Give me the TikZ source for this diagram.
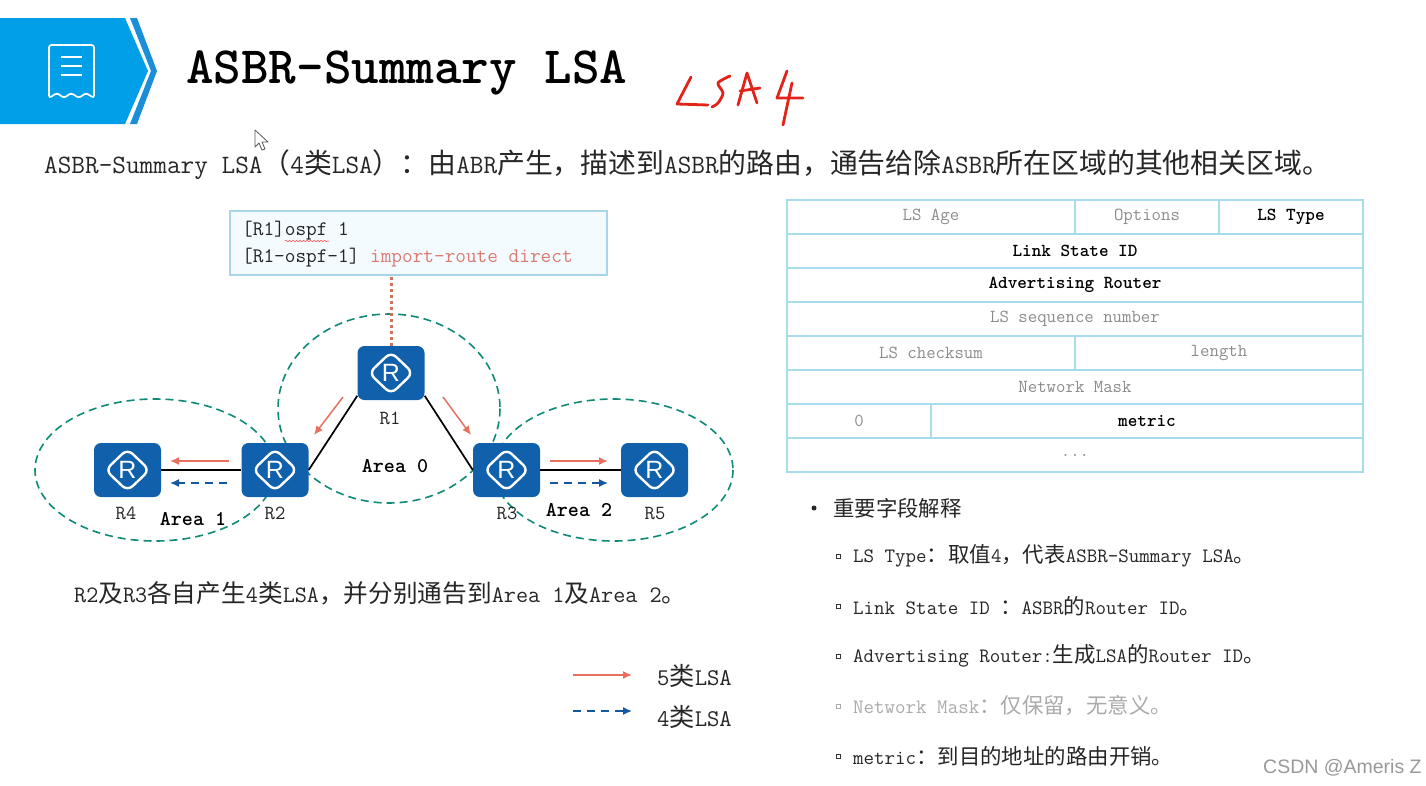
\documentclass[tikz,border=0pt]{standalone}
\usepackage{fontspec}
\usetikzlibrary{arrows.meta,shapes.geometric,decorations.pathmorphing}
\newfontfamily\cjk[Scale=1.05]{Noto Sans CJK SC}
\newfontfamily\helv{Liberation Sans}
\newcommand{\zh}[1]{{\cjk #1}}
\newcommand{\px}[1]{\fontsize{#1}{#1}\selectfont}
\definecolor{banner}{HTML}{009FE8}
\definecolor{bannerdark}{HTML}{1A8FD8}
\definecolor{routerblue}{HTML}{1160AC}
\definecolor{areateal}{HTML}{0E8A77}
\definecolor{lsared}{HTML}{E8705F}
\definecolor{lsablue}{HTML}{14589F}
\definecolor{tableline}{HTML}{A6DCEC}
\definecolor{cfgline}{HTML}{A9D5EA}
\definecolor{cfgfill}{HTML}{F3FBFE}
\definecolor{cmdred}{HTML}{DB7A72}
\definecolor{dotred}{HTML}{C9745F}
\definecolor{dimtext}{HTML}{8C8C8C}
\definecolor{faded}{HTML}{ABABAB}
\definecolor{inkred}{HTML}{E2231A}
\tikzset{
  txt/.style={inner sep=0pt, anchor=west, text=black!85},
  router/.style={rectangle, rounded corners=7pt, fill=routerblue, minimum width=67pt, minimum height=54pt, inner sep=0pt, text=white, font=\helv\px{25},
    path picture={\draw[white, line width=2.4pt] ([shift={(-22pt,0pt)}]path picture bounding box.center) -- ([shift={(0pt,21pt)}]path picture bounding box.center) -- ([shift={(22pt,0pt)}]path picture bounding box.center) -- ([shift={(0pt,-21pt)}]path picture bounding box.center) -- cycle;}},
  rlabel/.style={inner sep=0pt, text=black!85, font=\ttfamily\px{20}},
  arealabel/.style={inner sep=0pt, text=black, font=\ttfamily\bfseries\px{21}},
  area/.style={areateal, dashed, dash pattern=on 8pt off 5pt, line width=1.6pt},
  link/.style={black, line width=1.7pt},
  lsa5/.style={lsared, line width=1.5pt, -{Latex[length=9pt,width=8pt]}},
  lsa4/.style={lsablue, line width=1.5pt, dash pattern=on 8pt off 6pt, -{Latex[length=9pt,width=8pt]}},
  cell/.style={draw=tableline, line width=1.2pt, minimum height=34pt, inner sep=0pt, text=dimtext, font=\ttfamily\px{18.3}},
  keycell/.style={cell, text=black, font=\ttfamily\bfseries\px{18.3}},
  item/.style={txt, font=\ttfamily\px{20.4}},
  tick/.style={draw=black!80, line width=.8pt, minimum size=4pt, inner sep=0pt},
  ink/.style={inkred, line width=2.8pt, line cap=round, line join=round}
}
\begin{document}
\begin{tikzpicture}[x=1pt, y=-1pt]
\useasboundingbox (0,0) rectangle (1426,785);
\fill[white] (0,0) rectangle (1426,785);
% banner
\fill[banner] (0,18) -- (125,18) -- (148,71) -- (125,124) -- (0,124) -- cycle;
\fill[bannerdark] (130,18) -- (137,18) -- (157,71) -- (137,124) -- (130,124) -- (151,71) -- cycle;
\draw[white, line width=1.7pt, rounded corners=2.5pt] (49,45) -- (94,45) -- (94,98) -- (86,93) -- (79,98) -- (71,93) -- (64,98) -- (57,93) -- (49,98) -- cycle;
\draw[white, line width=1.7pt] (61,57) -- (82,57) (61,66) -- (82,66) (61,75) -- (82,75);
\node[txt, text=black, font=\ttfamily\bfseries\px{52.5}] (title) at (186,73) {ASBR-Summary LSA};
% handwriting
\draw[ink] (691,77) -- (677,104) -- (708,105);
\draw[ink, smooth] plot coordinates {(730,76) (718,83) (723,93) (718,103) (712,107)};
\draw[ink] (738,105) -- (747,73) -- (757,103) (740,91) -- (760,88);
\draw[ink] (787,71) -- (777,98) -- (803,98) (792,83) -- (783,125);
% cursor
\draw[fill=white, draw=black!65, line width=.8pt, line join=round] (255,130) -- (255,147) -- (259,143) -- (262,150) -- (265,149) -- (262,142) -- (268,142) -- cycle;
\node[txt, font=\ttfamily\px{26.5}] (intro) at (44,165) {ASBR-Summary LSA\zh{（}4\zh{类}LSA\zh{）：由}ABR\zh{产生，描述到}ASBR\zh{的路由，通告给除}ASBR\zh{所在区域的其他相关区域。}};
% config box
\node[draw=cfgline, fill=cfgfill, line width=1.1pt, minimum width=377pt, minimum height=64pt, inner sep=0pt] (cfg) at (418.5,243) {};
\node[txt, font=\ttfamily\px{20.7}] (cfgline1) at (242,231) {[R1]ospf 1};
\node[txt, font=\ttfamily\px{20.7}] (cfgline2) at (242,258) {[R1-ospf-1] \textcolor{cmdred}{import-route direct}};
\draw[red!80, line width=.5pt, decorate, decoration={snake, amplitude=.7pt, segment length=3.5pt}] (285,241) -- (329,241);
% areas
\draw[area] (155,470) ellipse (120 and 71);
\draw[area] (389,408.5) ellipse (111 and 94.5);
\draw[area] (613.6,470) ellipse (119.4 and 71);
% routers
\node[router] (R1) at (391,373) {R};
\node[router] (R2) at (275,470) {R};
\node[router] (R3) at (506.5,470) {R};
\node[router] (R4) at (127.5,470) {R};
\node[router] (R5) at (654.5,470) {R};
\node[rlabel] (R1lab) at (390,418) {R1};
\node[rlabel] (R2lab) at (275,513) {R2};
\node[rlabel] (R3lab) at (507,513) {R3};
\node[rlabel] (R4lab) at (126,513) {R4};
\node[rlabel] (R5lab) at (655,513) {R5};
\node[arealabel] (area0) at (395,466) {Area 0};
\node[arealabel] (area1) at (193,519) {Area 1};
\node[arealabel] (area2) at (579,510) {Area 2};
\draw[link] (R4) -- (R2);
\draw[link] (R2.east) -- (R1.214);
\draw[link] (R1.-34) -- (R3.west);
\draw[link] (R3) -- (R5);
\draw[dotred, line width=3pt, dash pattern=on 3pt off 3pt] (R1.north) -- (R1.north |- cfg.south);
% lsa arrows
\coordinate (a1) at (229,461);
\coordinate (a2) at (170,461);
\coordinate (b1) at (227,483);
\coordinate (b2) at (170,483);
\coordinate (c1) at (343,397);
\coordinate (c2) at (314,435);
\coordinate (d1) at (443,397);
\coordinate (d2) at (471,435);
\coordinate (e1) at (550,461);
\coordinate (e2) at (608,461);
\coordinate (f1) at (550,483);
\coordinate (f2) at (608,483);
\draw[lsa5] (a1) -- (a2);
\draw[lsa4] (b1) -- (b2);
\draw[lsa5] (c1) -- (c2);
\draw[lsa5] (d1) -- (d2);
\draw[lsa5] (e1) -- (e2);
\draw[lsa4] (f1) -- (f2);
\node[txt, font=\ttfamily\px{23.5}] (note) at (74,593) {R2\zh{及}R3\zh{各自产生}4\zh{类}LSA\zh{，并分别通告到}Area 1\zh{及}Area 2\zh{。}};
% legend
\coordinate (k1) at (573,675);
\coordinate (k2) at (632,675);
\coordinate (m1) at (573,711);
\coordinate (m2) at (632,711);
\draw[lsa5] (k1) -- (k2);
\draw[lsa4] (m1) -- (m2);
\node[txt, font=\ttfamily\px{24}] (key5) at (657,676) {5\zh{类}LSA};
\node[txt, font=\ttfamily\px{24}] (key4) at (657,717) {4\zh{类}LSA};
% header table
\node[cell, minimum width=288pt] (age) at (931,217) {LS Age};
\node[cell, minimum width=144pt] (opt) at (1147,217) {Options};
\node[keycell, minimum width=144pt] (type) at (1291,217) {LS Type};
\node[keycell, minimum width=576pt] (lsid) at (1075,251) {Link State ID};
\node[keycell, minimum width=576pt] (adv) at (1075,285) {Advertising Router};
\node[cell, minimum width=576pt] (seq) at (1075,319) {LS sequence number};
\node[cell, minimum width=288pt] (sum) at (931,353) {LS checksum};
\node[cell, minimum width=288pt] (len) at (1219,353) {length};
\node[cell, minimum width=576pt] (mask) at (1075,387) {Network Mask};
\node[cell, minimum width=144pt] (zero) at (859,421) {0};
\node[keycell, minimum width=432pt] (metric) at (1147,421) {metric};
\node[cell, minimum width=576pt] (more) at (1075,455) {...};
% field list
\node[circle, fill=black!85, minimum size=5pt, inner sep=0pt] (dot0) at (814,508) {};
\node[txt, font=\ttfamily\px{20.4}] (head) at (833,508) {\zh{重要字段解释}};
\node[tick] (t1) at (838,556) {};
\node[tick] (t2) at (838,606) {};
\node[tick] (t3) at (838,656) {};
\node[tick, draw=faded] (t4) at (838,706) {};
\node[tick] (t5) at (838,756) {};
\node[item] (f1txt) at (853,556) {LS Type\zh{：取值}4\zh{，代表}ASBR-Summary LSA\zh{。}};
\node[item] (f2txt) at (853,606) {Link State ID \zh{：}ASBR\zh{的}Router ID\zh{。}};
\node[item] (f3txt) at (853,656) {Advertising Router:\zh{生成}LSA\zh{的}Router ID\zh{。}};
\node[item, text=faded] (f4txt) at (853,706) {Network Mask\zh{：仅保留，无意义。}};
\node[item] (f5txt) at (853,756) {metric\zh{：到目的地址的路由开销。}};
\node[txt, text=black!40, font=\helv\px{19.5}] (mark) at (1263,768) {CSDN @Ameris Z};
\end{tikzpicture}
\end{document}
